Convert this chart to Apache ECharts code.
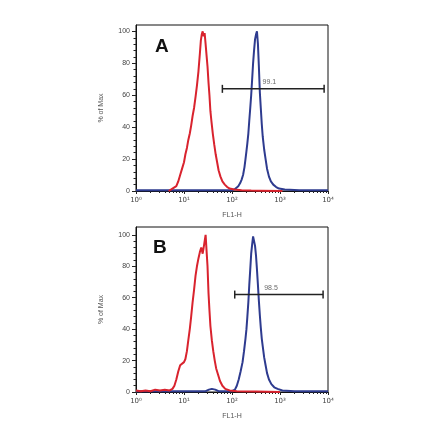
<!DOCTYPE html>
<html><head><meta charset="utf-8">
<script src="https://cdn.jsdelivr.net/npm/echarts@6/dist/echarts.min.js"></script>
<style>html,body{margin:0;padding:0;background:#fff}#c{width:440px;height:441px}</style>
</head><body><div id="c"></div>
<script>
// ---- Panel A ----
var redA_x = [4.79,5.25,5.75,6.31,6.92,7.59,8.32,9.12,10,10.7,11.5,12.3,13.2,14.1,15.1,16.2,17.4,18.6,20.0,21.4,22.4,23.4,24.5,25.7,26.9,28.2,29.5,30.9,32.4,33.9,35.5,37.2,39.8,42.7,45.7,49.0,52.5,57.5,63.1,70.8,79.4,89.1,112,158,251,398,1122];
var redA_y = [0,1,1.5,2,3,6,10,14,18,23,27,32,36,41,47,52,59,66,75,86,94,98,100,97,99,92,85,78,68,60,50,44,36,29,23,18,13,9,6,4,2.5,1.5,1,0.5,0.3,0.2,0];
var blueA_x = [1,3,10,30,100,112,123,135,148,158,170,182,191,200,209,219,229,240,251,263,275,288,302,316,331,347,363,380,398,417,437,468,501,537,589,646,724,832,955,1259,2512,10000];
var blueA_y = [0.5,0.5,0.5,0.5,0.5,1,2,3,5,7,10,15,20,25,30,36,44,52,60,70,80,88,95,98,100,92,78,62,52,42,34,26,20,14,9,6,4,2.5,1.5,1,0.5,0.5];
var gateA_x = [63, 8300];
var gateA_y = 64;
var gateA_label = '99.1';
var gateA_labelX = 600;

// ---- Panel B ----
var redB_x = [1,1.26,1.58,2.0,2.51,3.16,3.98,5.01,5.75,6.31,6.92,7.59,8.32,9.12,10,10.7,11.5,12.3,13.2,14.1,15.1,16.2,17.4,18.6,20.0,21.4,22.9,24.5,26.3,28.2,29.5,30.9,32.4,33.9,35.5,38.0,40.7,43.7,46.8,51.3,56.2,63.1,72.4,89.1,126,316,1000];
var redB_y = [1,0.5,1,0.5,1.5,1,1.5,1,2,4,8,13,17,18,19,21,26,33,40,48,57,65,74,80,85,89,92,88,94,100,90,80,63,52,42,33,26,20,15,11,7,4,2,1,0.5,0.3,0];
var blueB_x = [1,3,10,28.2,33.1,38.0,44.7,52.5,100,115,126,138,151,166,178,191,200,209,219,229,240,251,263,275,288,302,316,331,347,363,380,398,417,437,468,501,537,589,661,759,891,1122,1995,10000];
var blueB_y = [0.5,0.5,0.5,0.5,1.5,2,1.5,0.5,0.5,1.5,4,8,13,19,26,34,40,48,57,68,78,88,94,99,100,93,87,78,68,58,49,41,34,29,22,17,12,8,5,3,2,1,0.5,0.5];
var gateB_x = [114, 7900];
var gateB_y = 62;
var gateB_label = '98.5';
var gateB_labelX = 650;

var yMajor = [0,20,40,60,80,100];
var yMinor = [4,8,12,16,24,28,32,36,44,48,52,56,64,68,72,76,84,88,92,96];
var xMinorVals = [2,3,4,5,6,7,8,9,20,30,40,50,60,70,80,90,200,300,400,500,600,700,800,900,2000,3000,4000,5000,6000,7000,8000,9000];
var yLabelName = '% of Max';
var xLabelName = 'FL1-H';
var panelNames = ['A','B'];

var RED = '#d9232e', BLUE = '#2e3b8f';
var FONT = 'Liberation Sans, Arial, sans-serif';
var sup = {'0':'\u2070','1':'\u00b9','2':'\u00b2','3':'\u00b3','4':'\u2074'};

function zip(xs, ys){ return xs.map(function(x,i){return [x, ys[i]];}); }

var grids = [
  {left:136, top:25, width:192, height:166},
  {left:136, top:227, width:192, height:165}
];
var ymax = [104, 105];
var xAxes = [], yAxes = [], series = [];
grids.forEach(function(g, i){
  g.show = true; g.borderColor = '#111'; g.borderWidth = 1; g.backgroundColor = 'transparent';
  xAxes.push({
    type:'log', logBase:10, min:1, max:10000, gridIndex:i,
    name:xLabelName, nameLocation:'middle', nameGap:21,
    nameTextStyle:{fontSize:7, color:'#555', fontFamily:FONT},
    axisLine:{lineStyle:{color:'#111', width:1}},
    axisTick:{show:true, inside:false, length:3, lineStyle:{color:'#222'}},
    axisLabel:{fontSize:7, color:'#444', fontFamily:'DejaVu Sans', margin:6,
      formatter:function(v){ var e = String(Math.round(Math.log10(v))); return '10' + sup[e]; }},
    splitLine:{show:false}
  });
  xAxes.push({
    type:'value', min:0, max:4, gridIndex:i, position:'bottom',
    axisLine:{show:false}, axisLabel:{show:false}, splitLine:{show:false},
    axisTick:{show:true, length:2, lineStyle:{color:'#222'},
      customValues: xMinorVals.map(function(v){return Math.log10(v);})}
  });
  yAxes.push({
    type:'value', min:0, max:ymax[i], gridIndex:i,
    name:yLabelName, nameLocation:'middle', nameGap:31, nameRotate:90,
    nameTextStyle:{fontSize:7, color:'#555', fontFamily:FONT},
    axisLine:{lineStyle:{color:'#111', width:1}},
    axisTick:{show:true, length:4, lineStyle:{color:'#222'}, customValues:yMajor},
    axisLabel:{fontSize:7, color:'#444', fontFamily:FONT, margin:6, customValues:yMajor},
    splitLine:{show:false}
  });
  yAxes.push({
    type:'value', min:0, max:ymax[i], gridIndex:i, position:'left',
    axisLine:{show:false}, axisLabel:{show:false}, splitLine:{show:false},
    axisTick:{show:true, length:2.5, lineStyle:{color:'#222'}, customValues:yMinor}
  });
});

var panels = [
  {rx:redA_x, ry:redA_y, bx:blueA_x, by:blueA_y, gx:gateA_x, gy:gateA_y, gl:gateA_label, glx:gateA_labelX},
  {rx:redB_x, ry:redB_y, bx:blueB_x, by:blueB_y, gx:gateB_x, gy:gateB_y, gl:gateB_label, glx:gateB_labelX}
];
panels.forEach(function(p, i){
  var xi = i*2, yi = i*2;
  series.push({type:'line', xAxisIndex:xi, yAxisIndex:yi, data:zip(p.bx,p.by), showSymbol:false,
    lineStyle:{color:BLUE, width:2}, itemStyle:{color:BLUE}, z:3, animation:false});
  series.push({type:'line', xAxisIndex:xi, yAxisIndex:yi, data:zip(p.rx,p.ry), showSymbol:false,
    lineStyle:{color:RED, width:2}, itemStyle:{color:RED}, z:4, animation:false});
  series.push({type:'line', xAxisIndex:xi, yAxisIndex:yi, data:[[p.gx[0],p.gy],[p.gx[1],p.gy]],
    symbol:'rect', symbolSize:[1.5,8], showSymbol:true,
    lineStyle:{color:'#222', width:1.5}, itemStyle:{color:'#222'}, z:5, animation:false});
  series.push({type:'scatter', xAxisIndex:xi, yAxisIndex:yi, data:[[p.glx, p.gy]], symbolSize:0,
    label:{show:true, position:'top', distance:3, formatter:p.gl, fontSize:7, color:'#444', fontFamily:FONT},
    z:6, animation:false});
});

var chart = echarts.init(document.getElementById('c'), null, {renderer:'canvas'});
chart.setOption({
  backgroundColor:'#fff',
  animation:false,
  grid:grids, xAxis:xAxes, yAxis:yAxes, series:series,
  graphic:[
    {type:'text', left:155, top:37, style:{text:panelNames[0], fontSize:19, fontWeight:'bold', fill:'#111', fontFamily:FONT}},
    {type:'text', left:153, top:238, style:{text:panelNames[1], fontSize:19, fontWeight:'bold', fill:'#111', fontFamily:FONT}}
  ]
});
</script></body></html>
